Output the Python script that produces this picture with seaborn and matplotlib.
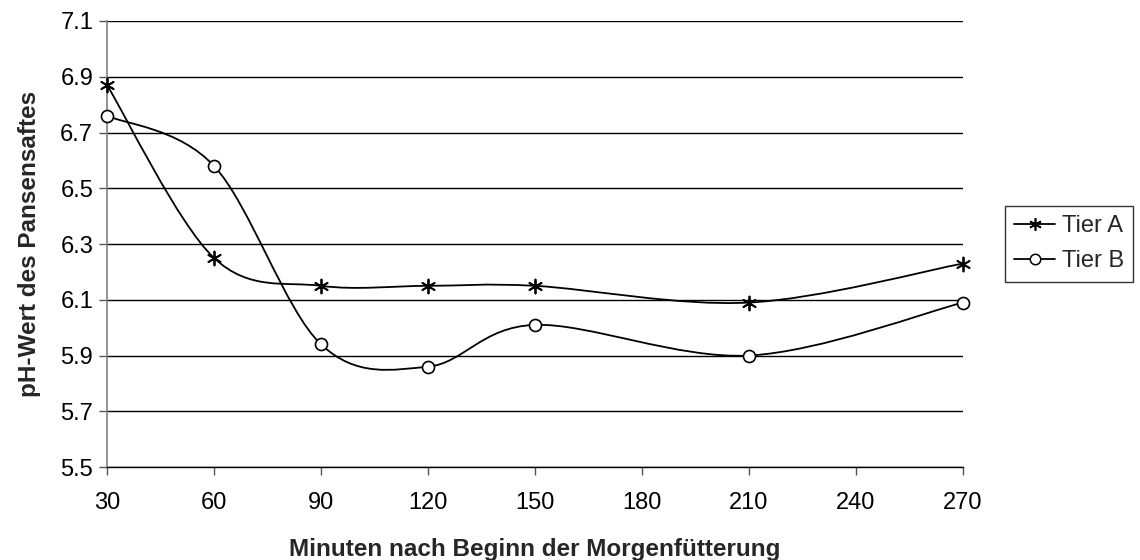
import numpy as np
import pandas as pd
import seaborn as sns
import matplotlib
matplotlib.use("Agg")
import matplotlib.pyplot as plt
from matplotlib.path import Path
from matplotlib.patches import PathPatch
from matplotlib.lines import Line2D

# Sampling times (minutes after the start of the morning feeding)
minutes = [30, 60, 90, 120, 150, 210, 270]
# Rumen fluid pH per animal
ph_tier_a = [6.87, 6.25, 6.15, 6.15, 6.15, 6.09, 6.23]
ph_tier_b = [6.76, 6.58, 5.94, 5.86, 6.01, 5.90, 6.09]
series_names = ["Tier A", "Tier B"]

x_ticks = [30, 60, 90, 120, 150, 180, 210, 240, 270]
y_ticks = [5.5, 5.7, 5.9, 6.1, 6.3, 6.5, 6.7, 6.9, 7.1]

df = pd.concat([
    pd.DataFrame({"Minuten": minutes, "pH": ph_tier_a, "Tier": series_names[0]}),
    pd.DataFrame({"Minuten": minutes, "pH": ph_tier_b, "Tier": series_names[1]}),
])

sns.set_theme(style="white")
plt.rcParams["font.family"] = ["Liberation Sans", "DejaVu Sans"]

fig = plt.figure(figsize=(11.4, 5.6), dpi=100)
ax = fig.add_axes([0.0939, 0.166, 0.7508, 0.7965])


def smooth_path(xs, ys):
    """Cubic Bezier path through the points (Catmull-Rom style tangents)."""
    pts = np.column_stack([xs, ys]).astype(float)
    n = len(pts)
    verts = [pts[0]]
    codes = [Path.MOVETO]
    for i in range(n - 1):
        p0 = pts[i - 1] if i > 0 else pts[i]
        p1 = pts[i]
        p2 = pts[i + 1]
        p3 = pts[i + 2] if i + 2 < n else pts[i + 1]
        c1 = p1 + (p2 - p0) / 6.0
        c2 = p2 - (p3 - p1) / 6.0
        verts += [c1, c2, p2]
        codes += [Path.CURVE4] * 3
    return Path(verts, codes)


for name in series_names:
    sub = df[df["Tier"] == name]
    ax.add_patch(PathPatch(smooth_path(sub["Minuten"], sub["pH"]),
                           fill=False, edgecolor="black", lw=1.3, zorder=3))

sns.scatterplot(data=df[df["Tier"] == "Tier A"], x="Minuten", y="pH",
                marker=(6, 2, 0), s=100, color="black", linewidth=1.3,
                ax=ax, zorder=4, legend=False, clip_on=False)
sns.scatterplot(data=df[df["Tier"] == "Tier B"], x="Minuten", y="pH",
                marker="o", s=75, facecolor="white", edgecolor="black",
                linewidth=1.2, ax=ax, zorder=4, legend=False, clip_on=False)

ax.set_xlim(30, 270)
ax.set_ylim(5.5, 7.1)
ax.set_xticks(x_ticks)
ax.set_yticks(y_ticks)
ax.set_xticklabels([str(v) for v in x_ticks])
ax.set_yticklabels([f"{v:.1f}" for v in y_ticks])

ax.yaxis.grid(True, color="black", lw=1.0)
ax.xaxis.grid(False)
ax.set_axisbelow(True)

for side in ["top", "right"]:
    ax.spines[side].set_visible(False)
ax.spines["left"].set_color("#808080")
ax.spines["left"].set_linewidth(1.2)
ax.spines["bottom"].set_color("black")
ax.spines["bottom"].set_linewidth(1.0)

ax.tick_params(axis="both", which="major", labelsize=17, labelcolor="black",
               color="#555555", direction="out", length=6, width=1,
               bottom=True, left=True)
ax.tick_params(axis="x", pad=12)
ax.tick_params(axis="y", pad=4)

ax.set_xlabel("Minuten nach Beginn der Morgenfütterung", fontsize=17.5,
              fontweight="bold", labelpad=17)
ax.set_ylabel("pH-Wert des Pansensaftes", fontsize=17.5, fontweight="bold",
              labelpad=14)

handles = [
    Line2D([], [], color="black", lw=1.3, marker=(6, 2, 0), markersize=9,
           markeredgewidth=1.2),
    Line2D([], [], color="black", lw=1.3, marker="o", markersize=7.5,
           markerfacecolor="white", markeredgewidth=1.1),
]
leg = fig.legend(handles, series_names, loc="upper left",
                 bbox_to_anchor=(1005 / 1140, 1 - 206 / 560),
                 fontsize=17, frameon=True, fancybox=False,
                 handlelength=1.7, handletextpad=0.3, borderpad=0.4,
                 labelspacing=0.55, borderaxespad=0)
leg.get_frame().set_edgecolor("black")
leg.get_frame().set_linewidth(1.0)

fig.savefig("out.png", dpi=100)
